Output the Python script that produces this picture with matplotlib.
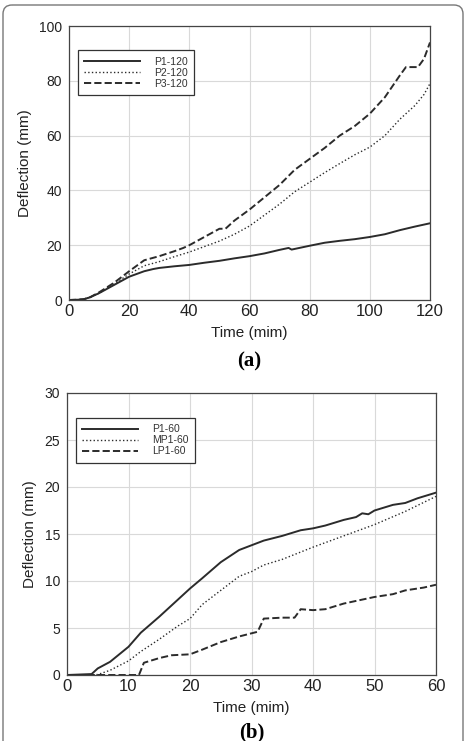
import numpy as np
import matplotlib.pyplot as plt
from matplotlib.patches import FancyBboxPatch

plt.rcParams['font.family'] = ['Liberation Sans', 'DejaVu Sans']

# panel (a): 120 min tests
t_p1_120 = [0, 3, 5, 7, 10, 15, 20, 25, 28, 30, 35, 40, 45, 50, 55, 60, 65, 70, 73, 74, 80, 85, 90, 95, 100, 105, 110, 115, 120]
d_p1_120 = [0, 0.1, 0.3, 1, 2.5, 5.5, 8.5, 10.5, 11.3, 11.7, 12.3, 12.8, 13.6, 14.3, 15.2, 16, 17, 18.3, 19, 18.4, 19.8, 20.9, 21.6, 22.2, 23, 24, 25.5, 26.8, 28]
t_p2_120 = [0, 3, 5, 7, 10, 15, 20, 25, 30, 35, 40, 45, 50, 55, 60, 65, 70, 75, 80, 85, 90, 95, 100, 105, 110, 115, 118, 120]
d_p2_120 = [0, 0.1, 0.3, 1, 2.5, 5.8, 9.5, 12.5, 14, 15.8, 17.5, 19.5, 21.5, 24, 27, 31, 35, 39.5, 43, 46.5, 49.8, 53, 55.8, 60, 66, 71, 75, 79]
t_p3_120 = [0, 3, 5, 7, 10, 15, 20, 25, 30, 35, 38, 40, 45, 50, 52, 55, 60, 65, 70, 75, 80, 85, 90, 95, 100, 105, 110, 112, 116, 118, 120]
d_p3_120 = [0, 0.1, 0.3, 1, 2.8, 6.3, 10.5, 14.5, 16, 17.8, 19, 20, 23, 26, 26, 29, 33, 37.5, 42, 47.5, 51.5, 55.5, 60, 63.5, 68, 74, 82, 85, 85, 88, 94]

# panel (b): 60 min tests
t_p1_60 = [0, 2, 4, 5, 7, 10, 12, 15, 17, 20, 22, 25, 28, 30, 32, 35, 38, 40, 42, 45, 47, 48, 49, 50, 53, 55, 57, 60]
d_p1_60 = [0, 0.05, 0.1, 0.7, 1.4, 3, 4.5, 6.2, 7.4, 9.2, 10.3, 12, 13.3, 13.8, 14.3, 14.8, 15.4, 15.6, 15.9, 16.5, 16.8, 17.2, 17.1, 17.5, 18.1, 18.3, 18.8, 19.4]
t_mp1_60 = [0, 3, 5, 7, 10, 12, 15, 18, 20, 22, 25, 28, 30, 32, 35, 40, 45, 50, 55, 60]
d_mp1_60 = [0, 0, 0.05, 0.5, 1.5, 2.5, 3.8, 5.2, 6, 7.5, 9, 10.5, 11, 11.7, 12.3, 13.6, 14.8, 16, 17.4, 19]
t_lp1_60 = [0, 11.7, 12.5, 13, 15, 17, 20, 22, 25, 28, 31, 32, 35, 37, 38, 40, 42, 45, 50, 53, 55, 58, 60]
d_lp1_60 = [0, 0, 1.3, 1.4, 1.8, 2.1, 2.2, 2.7, 3.5, 4.1, 4.6, 6.0, 6.1, 6.1, 7.0, 6.9, 7.0, 7.6, 8.3, 8.6, 9.0, 9.3, 9.6]

line_col = '#2b2b2b'
W, H = 465, 741

fig = plt.figure(figsize=(W / 100, H / 100), dpi=100)

# rounded frame around the whole figure, drawn in pixel units
bg = fig.add_axes([0, 0, 1, 1], zorder=-1)
bg.set_xlim(0, W)
bg.set_ylim(H, 0)
bg.axis('off')
bg.add_patch(FancyBboxPatch((3, 5), 460, 760, boxstyle='round,pad=0,rounding_size=9',
                            fill=False, edgecolor='#777777', lw=1.0))


def style_axes(ax):
    ax.grid(True, color='#d9d9d9', lw=0.8)
    ax.set_axisbelow(True)
    for s in ax.spines.values():
        s.set_color('#444444')
        s.set_linewidth(0.9)
    ax.tick_params(length=0, labelcolor='#222222', pad=5)
    ax.tick_params(axis='x', labelsize=12, pad=3)
    ax.tick_params(axis='y', labelsize=10)
    ax.set_xlabel('Time (mim)', fontsize=11, color='#222222', labelpad=5)
    ax.set_ylabel('Deflection (mm)', fontsize=11, color='#222222', labelpad=5)


def add_legend(ax):
    leg = ax.legend(loc='upper left', bbox_to_anchor=(0.01, 0.93), fontsize=7.5,
                    handlelength=5.4, handletextpad=1.3, borderpad=0.6,
                    labelspacing=0.1, fancybox=False, framealpha=1)
    leg.get_frame().set_edgecolor('#333333')
    leg.get_frame().set_linewidth(0.9)
    for txt in leg.get_texts():
        txt.set_color('#333333')


# (a)
ax1 = fig.add_axes([69 / W, 1 - 300 / H, 361 / W, 274 / H])
ax1.plot(t_p1_120, d_p1_120, '-', color=line_col, lw=1.4, label='P1-120')
ax1.plot(t_p2_120, d_p2_120, ':', color=line_col, lw=1.0, label='P2-120')
ax1.plot(t_p3_120, d_p3_120, '--', color=line_col, lw=1.4, label='P3-120')
ax1.set_xlim(0, 120)
ax1.set_ylim(0, 100)
ax1.set_xticks(np.arange(0, 121, 20))
ax1.set_yticks(np.arange(0, 101, 20))
style_axes(ax1)
add_legend(ax1)
fig.text(0.5 * (69 + 430) / W, 1 - 361 / H, '(a)', ha='center', va='center',
         fontsize=15, fontweight='bold', family='Liberation Serif')

# (b)
ax2 = fig.add_axes([67 / W, 1 - 675 / H, 369 / W, 282 / H])
ax2.plot(t_p1_60, d_p1_60, '-', color=line_col, lw=1.4, label='P1-60')
ax2.plot(t_mp1_60, d_mp1_60, ':', color=line_col, lw=1.0, label='MP1-60')
ax2.plot(t_lp1_60, d_lp1_60, '--', color=line_col, lw=1.4, label='LP1-60')
ax2.set_xlim(0, 60)
ax2.set_ylim(0, 30)
ax2.set_xticks(np.arange(0, 61, 10))
ax2.set_yticks(np.arange(0, 31, 5))
style_axes(ax2)
add_legend(ax2)
fig.text(0.5 * (67 + 436) / W, 1 - 732 / H, '(b)', ha='center', va='center',
         fontsize=15, fontweight='bold', family='Liberation Serif')

fig.savefig('out.png', dpi=100)
